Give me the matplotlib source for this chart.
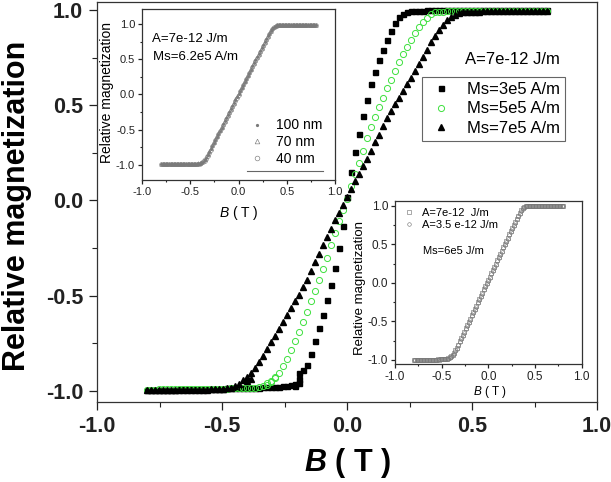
import matplotlib
matplotlib.use('Agg')
import matplotlib.pyplot as plt
from matplotlib.ticker import MultipleLocator
from matplotlib.lines import Line2D

plt.rcParams['font.family'] = ['Liberation Sans', 'DejaVu Sans']
plt.rcParams['mathtext.fontset'] = 'custom'
plt.rcParams['mathtext.rm'] = 'Liberation Sans'
plt.rcParams['mathtext.it'] = 'Liberation Sans:italic'
plt.rcParams['mathtext.bfit'] = 'Liberation Sans:italic:bold'

# field sweep (T), same grid for every curve
B_FIELD = [
    -0.800, -0.784, -0.768, -0.752, -0.736, -0.720, -0.704, -0.688, -0.672, -0.656,
    -0.640, -0.624, -0.608, -0.592, -0.576, -0.560, -0.544, -0.528, -0.512, -0.496,
    -0.480, -0.464, -0.448, -0.432, -0.416, -0.400, -0.384, -0.368, -0.352, -0.336,
    -0.320, -0.304, -0.288, -0.272, -0.256, -0.240, -0.224, -0.208, -0.192, -0.176,
    -0.160, -0.144, -0.128, -0.112, -0.096, -0.080, -0.064, -0.048, -0.032, -0.016,
    0.000, 0.016, 0.032, 0.048, 0.064, 0.080, 0.096, 0.112, 0.128, 0.144,
    0.160, 0.176, 0.192, 0.208, 0.224, 0.240, 0.256, 0.272, 0.288, 0.304,
    0.320, 0.336, 0.352, 0.368, 0.384, 0.400, 0.416, 0.432, 0.448, 0.464,
    0.480, 0.496, 0.512, 0.528, 0.544, 0.560, 0.576, 0.592, 0.608, 0.624,
    0.640, 0.656, 0.672, 0.688, 0.704, 0.720, 0.736, 0.752, 0.768, 0.784,
    0.800]

# main plot, A = 7e-12 J/m
MS3 = [
    -0.995, -0.995, -0.994, -0.994, -0.994, -0.993, -0.993, -0.993, -0.992, -0.992,
    -0.992, -0.991, -0.991, -0.990, -0.990, -0.990, -0.989, -0.989, -0.988, -0.988,
    -0.987, -0.987, -0.986, -0.986, -0.985, -0.984, -0.984, -0.983, -0.982, -0.981,
    -0.980, -0.979, -0.978, -0.977, -0.975, -0.973, -0.970, -0.962, -0.905, -0.890,
    -0.865, -0.805, -0.740, -0.670, -0.600, -0.525, -0.445, -0.355, -0.250, -0.135,
    0.020, 0.150, 0.255, 0.350, 0.445, 0.530, 0.610, 0.675, 0.735, 0.790,
    0.845, 0.890, 0.930, 0.962, 0.980, 0.990, 0.994, 0.996, 0.997, 0.997,
    0.998, 0.998, 0.998, 0.998, 0.999, 0.999, 0.999, 0.999, 0.999, 0.999,
    0.999, 0.999, 1.000, 1.000, 1.000, 1.000, 1.000, 1.000, 1.000, 1.000,
    1.000, 1.000, 1.000, 1.000, 1.000, 1.000, 1.000, 1.000, 1.000, 1.000,
    1.000]
MS5 = [
    -0.993, -0.993, -0.993, -0.992, -0.992, -0.992, -0.992, -0.991, -0.991, -0.991,
    -0.991, -0.990, -0.990, -0.990, -0.990, -0.989, -0.989, -0.989, -0.988, -0.988,
    -0.988, -0.987, -0.987, -0.986, -0.986, -0.985, -0.984, -0.982, -0.980, -0.976,
    -0.968, -0.955, -0.930, -0.905, -0.870, -0.830, -0.785, -0.740, -0.690, -0.640,
    -0.585, -0.530, -0.475, -0.415, -0.360, -0.300, -0.235, -0.170, -0.110, -0.050,
    0.010, 0.075, 0.140, 0.195, 0.260, 0.330, 0.385, 0.440, 0.490, 0.540,
    0.590, 0.635, 0.680, 0.725, 0.770, 0.805, 0.840, 0.878, 0.910, 0.938,
    0.960, 0.978, 0.987, 0.990, 0.992, 0.993, 0.993, 0.994, 0.994, 0.994,
    0.995, 0.995, 0.995, 0.995, 0.995, 0.996, 0.996, 0.996, 0.996, 0.996,
    0.996, 0.996, 0.996, 0.996, 0.997, 0.997, 0.997, 0.997, 0.997, 0.997,
    0.997]
MS7 = [
    -0.996, -0.996, -0.996, -0.995, -0.995, -0.995, -0.995, -0.994, -0.994, -0.994,
    -0.994, -0.994, -0.993, -0.993, -0.993, -0.993, -0.992, -0.992, -0.991, -0.990,
    -0.987, -0.982, -0.975, -0.962, -0.945, -0.925, -0.905, -0.880, -0.850, -0.815,
    -0.780, -0.745, -0.710, -0.675, -0.640, -0.600, -0.565, -0.530, -0.495, -0.455,
    -0.415, -0.370, -0.325, -0.280, -0.235, -0.190, -0.150, -0.105, -0.065, -0.025,
    0.020, 0.060, 0.100, 0.140, 0.180, 0.220, 0.260, 0.305, 0.345, 0.390,
    0.435, 0.470, 0.505, 0.540, 0.575, 0.610, 0.645, 0.680, 0.715, 0.755,
    0.790, 0.830, 0.865, 0.895, 0.920, 0.945, 0.962, 0.975, 0.982, 0.987,
    0.990, 0.991, 0.992, 0.992, 0.993, 0.993, 0.993, 0.993, 0.994, 0.994,
    0.994, 0.994, 0.994, 0.994, 0.994, 0.994, 0.994, 0.994, 0.994, 0.994,
    0.994]

# second-branch points near the lower knee
MS3_EXTRA_B = [-0.192, -0.192, -0.208]
MS3_EXTRA_M = [-0.935, -0.960, -0.975]
MS5_EXTRA_B = [-0.320, -0.304, -0.288]
MS5_EXTRA_M = [-0.958, -0.948, -0.928]
MS7_EXTRA_B = [-0.400, -0.384]
MS7_EXTRA_M = [-0.950, -0.935]

# inset 1, A = 7e-12 J/m, Ms = 6.2e5 A/m, three sizes
IN1_100 = [
    -0.996, -0.996, -0.995, -0.996, -0.995, -0.995, -0.996, -0.995, -0.995, -0.994,
    -0.995, -0.994, -0.994, -0.995, -0.994, -0.994, -0.993, -0.994, -0.993, -0.993,
    -0.992, -0.992, -0.991, -0.990, -0.988, -0.985, -0.978, -0.965, -0.942, -0.905,
    -0.862, -0.820, -0.777, -0.733, -0.690, -0.646, -0.602, -0.559, -0.515, -0.472,
    -0.428, -0.385, -0.341, -0.297, -0.254, -0.210, -0.166, -0.123, -0.079, -0.036,
    0.008, 0.052, 0.095, 0.139, 0.182, 0.226, 0.269, 0.313, 0.356, 0.400,
    0.443, 0.487, 0.530, 0.574, 0.617, 0.661, 0.704, 0.746, 0.788, 0.828,
    0.866, 0.905, 0.940, 0.966, 0.982, 0.990, 0.993, 0.994, 0.995, 0.995,
    0.995, 0.996, 0.996, 0.995, 0.996, 0.996, 0.996, 0.996, 0.997, 0.996,
    0.996, 0.997, 0.997, 0.996, 0.997, 0.997, 0.997, 0.997, 0.997, 0.997,
    0.997]
IN1_70 = [
    -0.997, -0.996, -0.996, -0.995, -0.996, -0.995, -0.995, -0.994, -0.995, -0.994,
    -0.994, -0.994, -0.993, -0.994, -0.993, -0.993, -0.993, -0.992, -0.992, -0.991,
    -0.991, -0.990, -0.989, -0.987, -0.984, -0.978, -0.960, -0.935, -0.915, -0.885,
    -0.850, -0.810, -0.768, -0.725, -0.682, -0.638, -0.595, -0.551, -0.508, -0.464,
    -0.420, -0.377, -0.333, -0.290, -0.246, -0.202, -0.158, -0.115, -0.071, -0.028,
    0.016, 0.059, 0.103, 0.146, 0.190, 0.233, 0.277, 0.320, 0.364, 0.407,
    0.451, 0.494, 0.538, 0.581, 0.625, 0.668, 0.711, 0.753, 0.794, 0.834,
    0.872, 0.910, 0.944, 0.969, 0.984, 0.991, 0.994, 0.995, 0.995, 0.996,
    0.996, 0.996, 0.996, 0.996, 0.997, 0.996, 0.997, 0.997, 0.997, 0.997,
    0.997, 0.997, 0.997, 0.998, 0.997, 0.998, 0.998, 0.998, 0.998, 0.998,
    0.998]
IN1_40 = [
    -0.996, -0.996, -0.996, -0.995, -0.995, -0.996, -0.995, -0.995, -0.995, -0.995,
    -0.994, -0.995, -0.994, -0.994, -0.994, -0.994, -0.993, -0.993, -0.993, -0.993,
    -0.993, -0.992, -0.991, -0.990, -0.989, -0.987, -0.982, -0.970, -0.950, -0.915,
    -0.872, -0.829, -0.786, -0.742, -0.699, -0.655, -0.612, -0.568, -0.525, -0.481,
    -0.437, -0.394, -0.350, -0.306, -0.263, -0.219, -0.175, -0.132, -0.088, -0.045,
    -0.001, 0.043, 0.086, 0.130, 0.173, 0.217, 0.260, 0.304, 0.347, 0.391,
    0.434, 0.478, 0.521, 0.565, 0.608, 0.652, 0.695, 0.738, 0.780, 0.821,
    0.860, 0.899, 0.935, 0.962, 0.980, 0.989, 0.993, 0.994, 0.995, 0.995,
    0.995, 0.995, 0.996, 0.996, 0.995, 0.996, 0.996, 0.996, 0.996, 0.997,
    0.996, 0.997, 0.997, 0.997, 0.997, 0.997, 0.997, 0.997, 0.997, 0.997,
    0.997]

# inset 2, Ms = 6e5, two exchange constants
IN2_A7 = [
    -0.997, -0.997, -0.996, -0.997, -0.996, -0.996, -0.996, -0.995, -0.996, -0.995,
    -0.995, -0.995, -0.994, -0.995, -0.994, -0.994, -0.993, -0.994, -0.993, -0.993,
    -0.992, -0.990, -0.986, -0.978, -0.966, -0.950, -0.930, -0.905, -0.875, -0.840,
    -0.800, -0.758, -0.716, -0.674, -0.632, -0.590, -0.548, -0.506, -0.464, -0.422,
    -0.380, -0.338, -0.296, -0.254, -0.212, -0.170, -0.128, -0.086, -0.044, -0.002,
    0.040, 0.082, 0.124, 0.166, 0.208, 0.250, 0.292, 0.334, 0.376, 0.418,
    0.460, 0.502, 0.544, 0.586, 0.628, 0.670, 0.712, 0.754, 0.794, 0.834,
    0.872, 0.908, 0.940, 0.966, 0.984, 0.993, 0.996, 0.997, 0.997, 0.998,
    0.998, 0.998, 0.998, 0.998, 0.999, 0.998, 0.999, 0.999, 0.999, 0.999,
    0.999, 0.999, 0.999, 0.999, 0.999, 0.999, 0.999, 0.999, 0.999, 0.999,
    0.999]
IN2_A35 = [
    -0.997, -0.996, -0.996, -0.996, -0.996, -0.995, -0.996, -0.995, -0.995, -0.995,
    -0.995, -0.994, -0.994, -0.994, -0.994, -0.994, -0.994, -0.993, -0.993, -0.993,
    -0.993, -0.991, -0.988, -0.982, -0.972, -0.958, -0.940, -0.916, -0.886, -0.851,
    -0.812, -0.771, -0.729, -0.687, -0.645, -0.603, -0.561, -0.519, -0.477, -0.435,
    -0.393, -0.351, -0.309, -0.267, -0.225, -0.183, -0.141, -0.099, -0.057, -0.015,
    0.027, 0.069, 0.111, 0.153, 0.195, 0.237, 0.279, 0.321, 0.363, 0.405,
    0.447, 0.489, 0.531, 0.573, 0.615, 0.657, 0.699, 0.741, 0.782, 0.822,
    0.861, 0.898, 0.932, 0.960, 0.980, 0.991, 0.995, 0.996, 0.997, 0.997,
    0.997, 0.997, 0.998, 0.998, 0.998, 0.998, 0.998, 0.998, 0.998, 0.998,
    0.998, 0.998, 0.998, 0.998, 0.998, 0.998, 0.998, 0.998, 0.998, 0.998,
    0.998]

TICKS = [-1.0, -0.5, 0.0, 0.5, 1.0]
TICK_LABELS = ['-1.0', '-0.5', '0.0', '0.5', '1.0']

GREEN = '#3ee03e'
GREY = '#7a7a7a'


def style_axes(ax, labelsize, length, bold=False):
    '''ticks out, on bottom and left only, with minor ticks'''
    ax.set_xticks(TICKS)
    ax.set_yticks(TICKS)
    weight = 'bold' if bold else 'normal'
    ax.set_xticklabels(TICK_LABELS, fontsize=labelsize, fontweight=weight)
    ax.set_yticklabels(TICK_LABELS, fontsize=labelsize, fontweight=weight)
    ax.xaxis.set_minor_locator(MultipleLocator(0.25))
    ax.yaxis.set_minor_locator(MultipleLocator(0.25))
    ax.tick_params(which='major', direction='out', length=length, width=0.9,
                   top=False, right=False, pad=2, colors='#222222')
    ax.tick_params(which='minor', direction='out', length=length * 0.6,
                   width=0.8, top=False, right=False, colors='#222222')
    for s in ax.spines.values():
        s.set_linewidth(0.9)
        s.set_color('#333333')


fig = plt.figure(figsize=(6.11, 4.82), dpi=100)

# main axes
ax = fig.add_axes([0.1588, 0.166, 0.8184, 0.8299])
ax.plot(B_FIELD, MS3, ls='none', marker='s', ms=3.6, color='black',
        label='Ms=3e5 A/m')
ax.plot(B_FIELD, MS5, ls='none', marker='o', ms=4.4, mfc='none', mec=GREEN,
        mew=0.7, label='Ms=5e5 A/m')
ax.plot(B_FIELD, MS7, ls='none', marker='^', ms=4.6, color='black',
        label='Ms=7e5 A/m')
ax.plot(MS3_EXTRA_B, MS3_EXTRA_M, ls='none', marker='s', ms=3.6, color='black')
ax.plot(MS5_EXTRA_B, MS5_EXTRA_M, ls='none', marker='o', ms=4.4, mfc='none',
        mec=GREEN, mew=0.7)
ax.plot(MS7_EXTRA_B, MS7_EXTRA_M, ls='none', marker='^', ms=4.6, color='black')
ax.set_xlim(-1.0, 1.0)
ax.set_ylim(-1.058, 1.042)
style_axes(ax, 15.5, 6, bold=True)
ax.tick_params(which='major', pad=4)
ax.set_ylabel('Relative magnetization', fontsize=22, fontweight='bold')
ax.yaxis.set_label_coords(-0.13, 0.49)
ax.set_xlabel(r'$\mathbfit{B}$ ( T )', fontsize=22, fontweight='bold')
ax.xaxis.set_label_coords(0.5, -0.11)

leg = ax.legend(loc='upper left', bbox_to_anchor=(0.6506, 0.812),
                borderaxespad=0, fancybox=False, edgecolor='#666666',
                fontsize=12, handlelength=1.6, handletextpad=0.8,
                borderpad=0.3, labelspacing=0.25, framealpha=1)
leg.get_frame().set_linewidth(0.8)
ax.text(0.735, 0.857, 'A=7e-12 J/m', transform=ax.transAxes, fontsize=12,
        ha='left', va='center')

# inset 1 (upper left)
ax1 = fig.add_axes([0.2324, 0.6266, 0.3159, 0.3548])
ax1.set_facecolor('white')
ax1.plot(B_FIELD, IN1_100, ls='none', marker='.', ms=2.0, color=GREY,
         label='100 nm')
ax1.plot(B_FIELD, IN1_70, ls='none', marker='^', ms=2.6, mfc='none', mec=GREY,
         mew=0.45, label='70 nm')
ax1.plot(B_FIELD, IN1_40, ls='none', marker='o', ms=2.6, mfc='none', mec=GREY,
         mew=0.45, label='40 nm')
ax1.set_xlim(-1.0, 1.0)
ax1.set_ylim(-1.22, 1.22)
style_axes(ax1, 8, 3)
ax1.set_ylabel('Relative magnetization', fontsize=10)
ax1.yaxis.set_label_coords(-0.145, 0.512)
ax1.set_xlabel(r'$\mathit{B}$ ( T )', fontsize=10)
ax1.xaxis.set_label_coords(0.5, -0.14)
ax1.text(0.05, 0.823, 'A=7e-12 J/m', transform=ax1.transAxes, fontsize=9.5,
         va='center')
ax1.text(0.055, 0.721, 'Ms=6.2e5 A/m', transform=ax1.transAxes, fontsize=9.5,
         va='center')
ax1.legend(loc='upper left', bbox_to_anchor=(0.56, 0.36), frameon=False,
           borderaxespad=0, borderpad=0, fontsize=10, handlelength=1.0,
           handletextpad=0.9, labelspacing=0.2, markerscale=1.3)
ax1.add_line(Line2D([0.542, 0.939], [0.054, 0.054], transform=ax1.transAxes,
                    color='#666666', lw=0.8))

# inset 2 (lower right)
ax2 = fig.add_axes([0.6465, 0.2448, 0.3055, 0.3388])
ax2.set_facecolor('white')
ax2.plot(B_FIELD, IN2_A7, ls='none', marker='s', ms=2.4, mfc='none', mec=GREY,
         mew=0.45, label='A=7e-12  J/m')
ax2.plot(B_FIELD, IN2_A35, ls='none', marker='o', ms=2.6, mfc='none', mec=GREY,
         mew=0.45, label='A=3.5 e-12 J/m')
ax2.set_xlim(-1.0, 1.0)
ax2.set_ylim(-1.052, 1.065)
style_axes(ax2, 8.5, 3)
ax2.set_ylabel('Relative magnetization', fontsize=9.5)
ax2.yaxis.set_label_coords(-0.155, 0.465)
ax2.set_xlabel(r'$\mathit{B}$ ( T )', fontsize=8.5)
ax2.xaxis.set_label_coords(0.509, -0.12)
ax2.legend(loc='upper left', bbox_to_anchor=(0.05, 0.955), frameon=False,
           borderaxespad=0, borderpad=0, fontsize=8, handlelength=0.8,
           handletextpad=0.8, labelspacing=0.2)
ax2.text(0.152, 0.694, 'Ms=6e5 J/m', transform=ax2.transAxes, fontsize=8,
         va='center')

fig.savefig('out.png', dpi=100)
